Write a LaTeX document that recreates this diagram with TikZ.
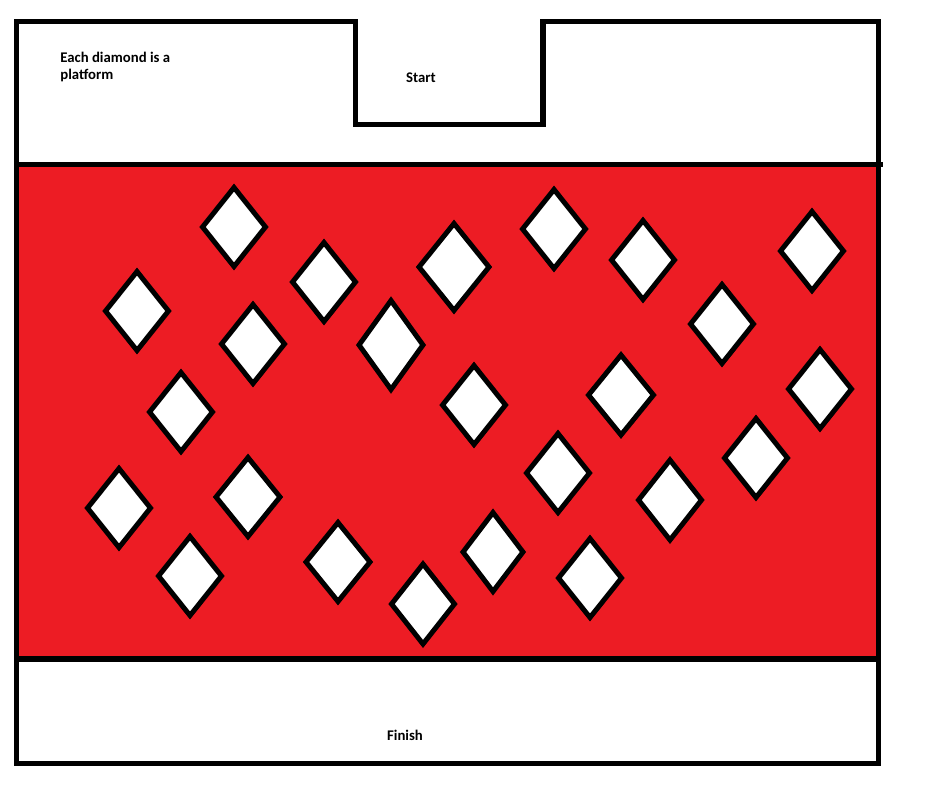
\documentclass[tikz,border=0pt]{standalone}
\usepackage{fontspec}
\setmainfont{Carlito}
\usetikzlibrary{positioning,shapes.geometric}
\definecolor{lavared}{RGB}{237,28,36}
\definecolor{ink}{RGB}{0,0,0}
\tikzset{
  wall/.style={draw=ink, line width=0.11cm, line join=miter},
  platform/.style={diamond, draw=ink, fill=white, line width=0.1cm, inner sep=0pt, minimum width=#1},
  platform/.default={1.3cm},
  lbl/.style={font=\fontsize{8.4}{9.6}\selectfont\bfseries, inner sep=0pt, align=left}
}

\begin{document}
\begin{tikzpicture}[x=0.02cm, y=-0.02cm]
        \useasboundingbox (0,0) rectangle (926,799);
        % lava
        \fill[lavared] (16.5,164.5) rectangle (878.5,659);
        % walls
        \draw[wall] (16.5,763.5) -- (16.5,21.5) -- (355.5,21.5) -- (355.5,124.5) -- (543,124.5) -- (543,21.5) -- (878.5,21.5) -- (878.5,763.5) -- cycle;
        \draw[wall] (16.5,164.5) -- (883,164.5);
        \draw[wall] (16.5,659) -- (878.5,659);
        % platforms
        \foreach \px/\py/\w/\h [count=\i] in {
            234/227/65/81, 137/311/65/81, 324/282/65/81, 253/344/65/81,
            181/412/65/81, 391/345/66/91, 454/267/72/89, 554/229/65/81,
            643/260/65/81, 722/324/65/81, 812/251/65/81, 474/405/65/81,
            621/395/67/82, 820/389/65/81, 119/508/65/81, 248/497/66/81,
            190/576/65/81, 338/562/66/81, 423/604/65/82, 493/552/62/81,
            558/473/65/81, 670/500/65/82, 756/458/65/81, 590/578/65/81}
          \node[platform=\w*0.02cm, minimum height=\h*0.02cm] (p\i) at (\px,\py) {};
        % labels
        \node[lbl, anchor=north west] (note) at (60,52) {Each diamond is a\\platform};
        \node[lbl] (start) at (421,77.5) {Start};
        \node[lbl] (finish) at (405,735.5) {Finish};
      \end{tikzpicture}
\end{document}
